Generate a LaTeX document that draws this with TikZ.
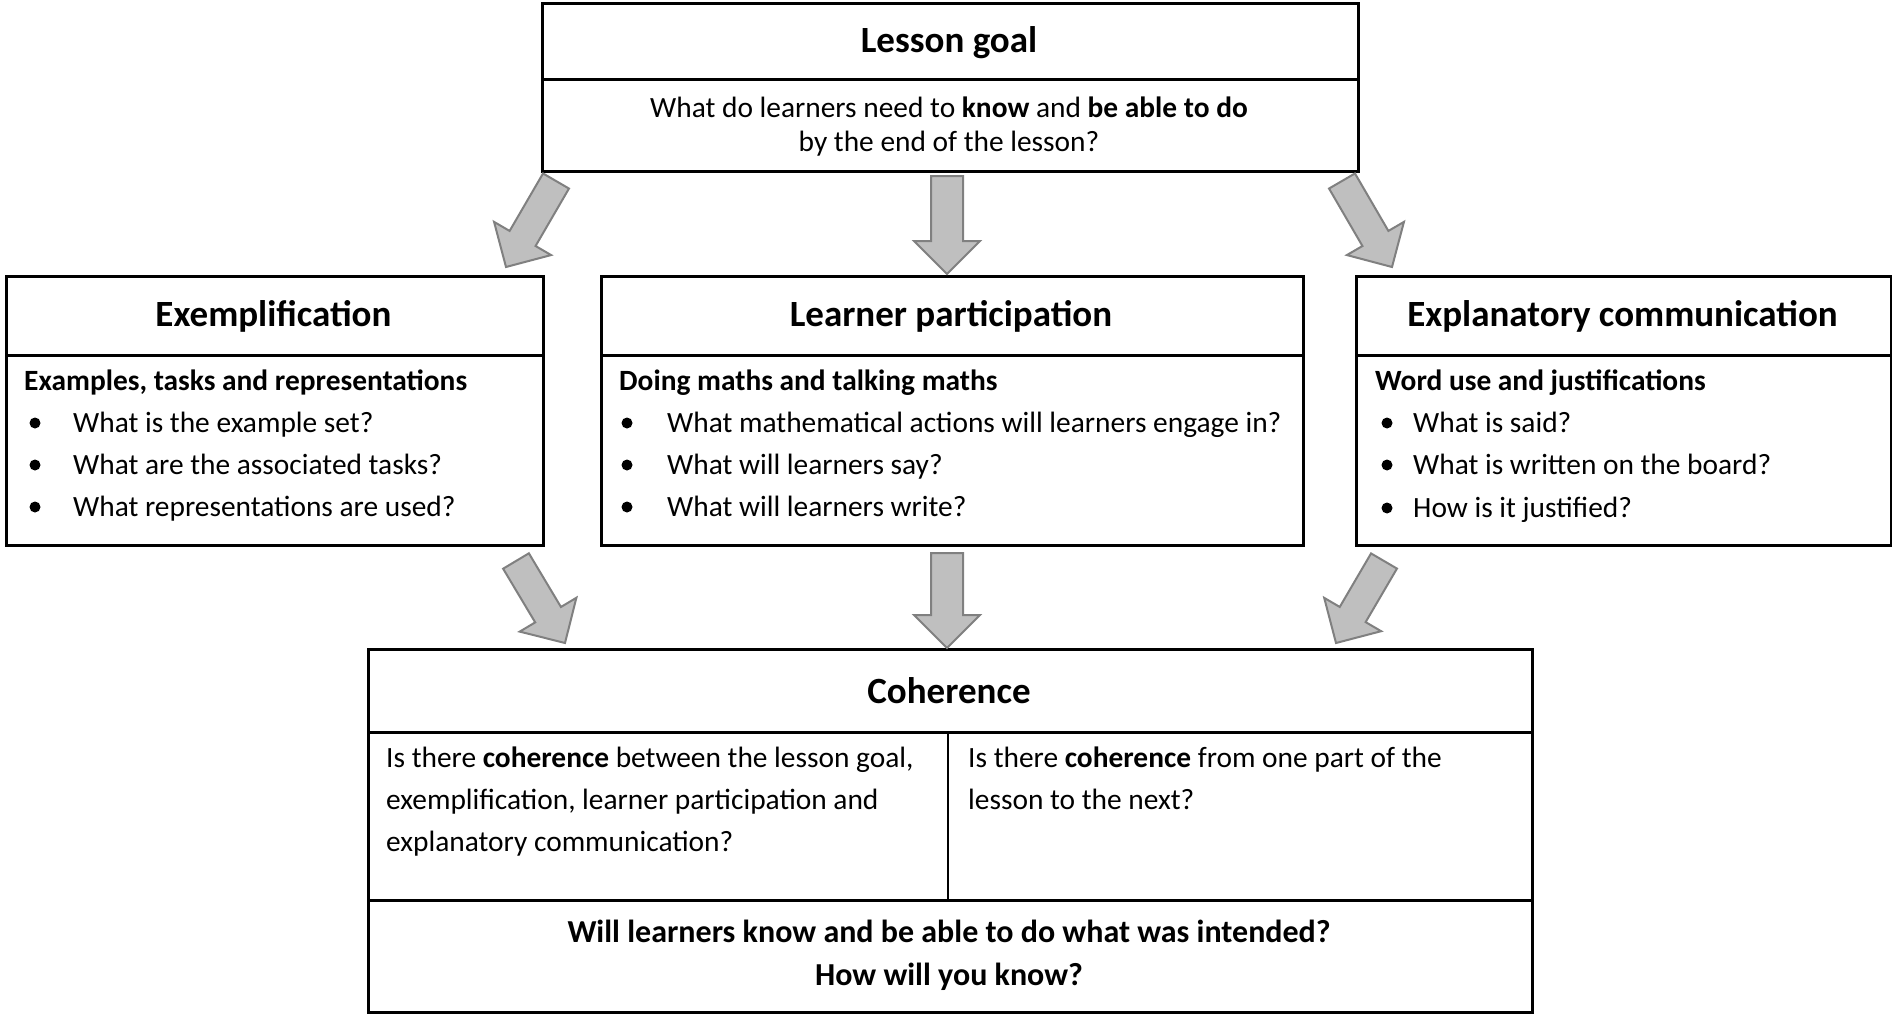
\documentclass[tikz,border=0pt]{standalone}
\usepackage{fontspec}
\setmainfont{Carlito}
\usetikzlibrary{calc}
\tikzset{
  frame/.style={draw=black, line width=3pt, inner sep=0pt, anchor=north west},
  ttl/.style={font=\fontsize{37}{44}\selectfont\bfseries, inner sep=0pt, anchor=base},
  txt/.style={font=\fontsize{29.4}{35}\selectfont, inner sep=0pt, anchor=base west},
  ctxt/.style={txt, anchor=base},
  btxt/.style={txt, font=\fontsize{29.4}{35}\selectfont\bfseries},
  bigb/.style={txt, anchor=base, font=\fontsize{32}{38}\selectfont\bfseries},
  dot/.style={circle, fill=black, inner sep=0pt, minimum size=11pt},
  barrow/.style={fill=black!25, draw=black!50, line width=2pt, line join=miter},
}
\newcommand\blockarr[4]{% start, end, shaft half width, head half width
  \coordinate (tmpH) at ($(#2)!33pt!(#1)$);
  \draw[barrow] ($(#1)!#3!90:(#2)$) -- ($(tmpH)!#3!90:(#2)$) -- ($(tmpH)!#4!90:(#2)$)
    -- (#2) -- ($(tmpH)!#4!-90:(#2)$) -- ($(tmpH)!#3!-90:(#2)$) -- ($(#1)!#3!-90:(#2)$) -- cycle;
}
\begin{document}
\begin{tikzpicture}[x=1pt,y=-1pt]
\useasboundingbox (0,0) rectangle (1892,1014);
\fill[white] (0,0) rectangle (1892,1014);

% Lesson goal
\node[frame, minimum width=816pt, minimum height=76pt] (goalh) at (541,2) {};
\node[frame, minimum width=816pt, minimum height=92pt] (goalb) at (541,78) {};
\node[ttl] (goalt) at (949,53) {Lesson goal};
\node[ctxt] (goalq1) at (949,118) {What do learners need to \textbf{know} and \textbf{be able to do}};
\node[ctxt] (goalq2) at (949,151) {by the end of the lesson?};

% Exemplification
\node[frame, minimum width=537pt, minimum height=79pt] (exh) at (5,275) {};
\node[frame, minimum width=537pt, minimum height=190pt] (exb) at (5,354) {};
\node[ttl] (ext) at (273.5,326) {Exemplification};
\node[btxt] (exs) at (24,390) {Examples, tasks and representations};
\node[dot] (exb1d) at (35,423) {};
\node[txt] (exb1) at (73,432) {What is the example set?};
\node[dot] (exb2d) at (35,465) {};
\node[txt] (exb2) at (73,474) {What are the associated tasks?};
\node[dot] (exb3d) at (35,507) {};
\node[txt] (exb3) at (73,516) {What representations are used?};

% Learner participation
\node[frame, minimum width=702pt, minimum height=79pt] (lph) at (600,275) {};
\node[frame, minimum width=702pt, minimum height=190pt] (lpb) at (600,354) {};
\node[ttl] (lpt) at (951,326) {Learner participation};
\node[btxt] (lps) at (619,390) {Doing maths and talking maths};
\node[dot] (lpb1d) at (627,423) {};
\node[txt] (lpb1) at (667,432) {What mathematical actions will learners engage in?};
\node[dot] (lpb2d) at (627,465) {};
\node[txt] (lpb2) at (667,474) {What will learners say?};
\node[dot] (lpb3d) at (627,507) {};
\node[txt] (lpb3) at (667,516) {What will learners write?};

% Explanatory communication
\node[frame, minimum width=535pt, minimum height=79pt] (ech) at (1355,275) {};
\node[frame, minimum width=535pt, minimum height=190pt] (ecb) at (1355,354) {};
\node[ttl] (ect) at (1622.5,326) {Explanatory communication};
\node[btxt] (ecs) at (1375,390) {Word use and justifications};
\node[dot] (ecb1d) at (1387,423) {};
\node[txt] (ecb1) at (1413,432) {What is said?};
\node[dot] (ecb2d) at (1387,465) {};
\node[txt] (ecb2) at (1413,474) {What is written on the board?};
\node[dot] (ecb3d) at (1387,508) {};
\node[txt] (ecb3) at (1413,517) {How is it justified?};

% Coherence
\node[frame, minimum width=1164pt, minimum height=83pt] (coh) at (367,648) {};
\node[frame, minimum width=1164pt, minimum height=168pt] (cob) at (367,731) {};
\node[frame, minimum width=1164pt, minimum height=112pt] (cof) at (367,899) {};
\draw[line width=2pt] (cob.north west -| 948,0) -- (cob.south west -| 948,0);
\node[ttl] (cot) at (949,703) {Coherence};
\node[txt] (col1) at (386,767) {Is there \textbf{coherence} between the lesson goal,};
\node[txt] (col2) at (386,809) {exemplification, learner participation and};
\node[txt] (col3) at (386,851) {explanatory communication?};
\node[txt] (cor1) at (968,767) {Is there \textbf{coherence} from one part of the};
\node[txt] (cor2) at (968,809) {lesson to the next?};
\node[bigb] (cof1) at (949,942) {Will learners know and be able to do what was intended?};
\node[bigb] (cof2) at (949,985) {How will you know?};

% Arrows
\coordinate (a1s) at (556,181); \coordinate (a1e) at (506,267);
\coordinate (a2s) at (947,176); \coordinate (a2e) at (947,274);
\coordinate (a3s) at (1342,181); \coordinate (a3e) at (1392,267);
\coordinate (a4s) at (516,561); \coordinate (a4e) at (565,643);
\coordinate (a5s) at (947,553); \coordinate (a5e) at (947,648);
\coordinate (a6s) at (1384,561); \coordinate (a6e) at (1336,643);
\blockarr{a1s}{a1e}{15pt}{33pt}
\blockarr{a2s}{a2e}{16pt}{33pt}
\blockarr{a3s}{a3e}{15pt}{33pt}
\blockarr{a4s}{a4e}{15pt}{33pt}
\blockarr{a5s}{a5e}{16pt}{33pt}
\blockarr{a6s}{a6e}{15pt}{33pt}
\end{tikzpicture}
\end{document}
